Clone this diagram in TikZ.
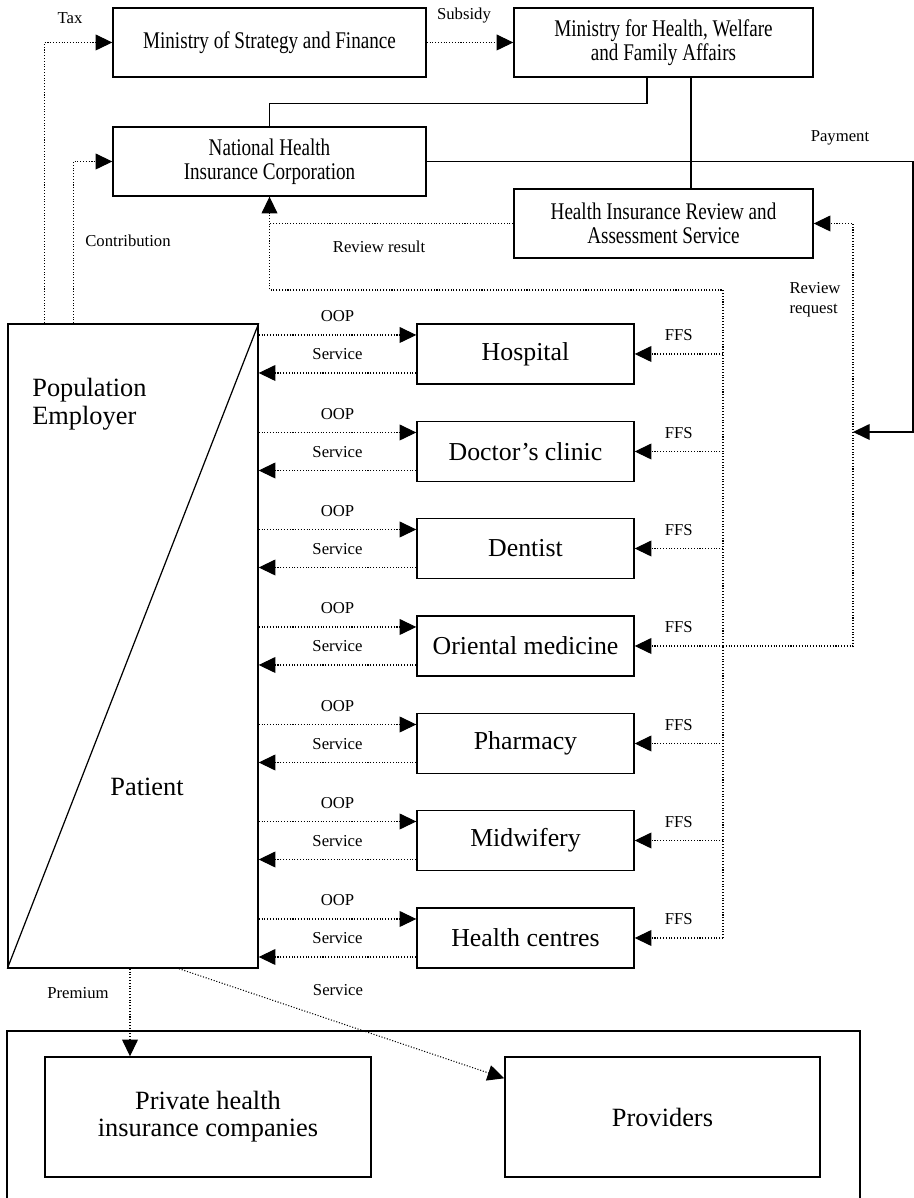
\documentclass[tikz,border=0pt]{standalone}
\usepackage{fontspec}
\setmainfont{Liberation Serif}
\newfontfamily\narrowfont[FakeStretch=0.8]{Liberation Serif}
\usetikzlibrary{arrows.meta,calc}
\tikzset{
  govbox/.style={draw, line width=0.8pt, align=center, minimum width=6.26cm, minimum height=1.38cm, inner sep=2pt, font=\narrowfont\fontsize{13.6}{13.6}\selectfont},
  provbox/.style={draw, line width=0.8pt, align=center, minimum width=4.34cm, minimum height=1.2cm, inner sep=2pt, font=\fontsize{14.7}{16}\selectfont},
  privbox/.style={draw, line width=0.8pt, align=center, minimum height=2.4cm, inner sep=2pt, font=\fontsize{15}{15.5}\selectfont},
  popbox/.style={draw, line width=0.8pt, minimum width=5cm, minimum height=12.88cm, inner sep=0pt},
  poptext/.style={align=left, inner sep=0pt, font=\fontsize{15}{16}\selectfont},
  flowlbl/.style={align=center, inner sep=1pt, font=\fontsize{9.5}{11.3}\selectfont},
  dotarrow/.style={-{Triangle[length=9.5pt,width=9pt]}, densely dotted, line width=0.6pt},
  dotline/.style={densely dotted, line width=0.6pt},
  solidarrow/.style={-{Triangle[length=9.5pt,width=9pt]}, line width=0.7pt},
  solidline/.style={line width=0.7pt},
  outerframe/.style={line width=0.8pt}
}
\begin{document}
\begin{tikzpicture}[x=1cm,y=1cm]
\useasboundingbox (0,0) rectangle (18.28,23.96);
% government and insurer
\node[govbox] (msf) at (5.39,23.11) {Ministry of Strategy and Finance};
\node[govbox, minimum width=5.98cm] (mhw) at (13.27,23.11) {Ministry for Health, Welfare\\and Family Affairs};
\node[govbox] (nhic) at (5.39,20.73) {National Health\\Insurance Corporation};
\node[govbox, minimum width=5.98cm] (hira) at (13.27,19.49) {Health Insurance Review and\\Assessment Service};
% population block
\node[popbox] (pop) at (2.66,11.04) {};
\draw[solidline] (pop.north east) -- (pop.south west);
\node[poptext, anchor=west] (popl) at (0.64,15.88) {Population\\Employer};
\node[poptext] (patl) at (2.94,8.22) {Patient};
% providers
\node[provbox] (hosp) at (10.51,16.88) {Hospital};
\node[provbox] (clinic) at (10.51,14.93) {Doctor’s clinic};
\node[provbox] (dent) at (10.51,12.99) {Dentist};
\node[provbox] (orient) at (10.51,11.04) {Oriental medicine};
\node[provbox] (pharm) at (10.51,9.09) {Pharmacy};
\node[provbox] (midw) at (10.51,7.15) {Midwifery};
\node[provbox] (hcent) at (10.51,5.20) {Health centres};
% private sector
\draw[outerframe] (0.14,0) |- (17.2,3.34) -- (17.2,0);
\node[privbox, minimum width=6.52cm] (phi) at (4.16,1.62) {Private health\\insurance companies};
\node[privbox, minimum width=6.3cm] (prov) at (13.25,1.62) {Providers};
% free ends
\coordinate (ffst) at (14.46,18.16);
\coordinate (ffsb) at (14.46,5.20);
\coordinate (rqb) at (17.06,11.04);
\coordinate (payc) at (18.26,20.73);
\coordinate (payb) at (17.06,15.32);
% money flows at the top
\draw[dotarrow] ([xshift=0.74cm]pop.north west) |- (msf.west);
\draw[dotarrow] ([xshift=1.32cm]pop.north west) |- (nhic.west);
\draw[dotarrow] (msf.east) -- (mhw.west);
\draw[solidline] ([xshift=-0.33cm]mhw.south) -- ++(0,-0.52) -| (nhic.north);
\draw[solidline] ([xshift=0.55cm]mhw.south) -- ([xshift=0.55cm]hira.north);
\draw[solidarrow] (nhic.east) -- (payc) |- (payb);
\draw[dotline] (hira.west) -- (hira.west -| nhic.south);
\draw[dotarrow] (ffsb) -- (ffst) -| (nhic.south);
\draw[dotarrow] (ffst |- orient.east) -- (rqb) |- (hira.east);
\node[flowlbl] (taxl) at (1.40,23.60) {Tax};
\node[flowlbl] (subl) at (9.28,23.64) {Subsidy};
\node[flowlbl] (conl) at (2.56,19.14) {Contribution};
\node[flowlbl] (resl) at (7.58,19.02) {Review result};
\node[flowlbl] (payl) at (16.80,21.20) {Payment};
\node[flowlbl, align=left] (reql) at (16.30,17.96) {Review\\request};
% patient and provider flows
\draw[dotarrow] ([yshift=0.38cm]pop.east |- hosp.west) -- node[flowlbl, above=0.22cm] (oop1) {OOP} ([yshift=0.38cm]hosp.west);
\draw[dotarrow] ([yshift=-0.38cm]hosp.west) -- node[flowlbl, above=0.22cm] (srv1) {Service} ([yshift=-0.38cm]pop.east |- hosp.west);
\draw[dotarrow] (ffst |- hosp.east) -- node[flowlbl, above=0.22cm] (ffs1) {FFS} (hosp.east);
\draw[dotarrow] ([yshift=0.38cm]pop.east |- clinic.west) -- node[flowlbl, above=0.22cm] (oop2) {OOP} ([yshift=0.38cm]clinic.west);
\draw[dotarrow] ([yshift=-0.38cm]clinic.west) -- node[flowlbl, above=0.22cm] (srv2) {Service} ([yshift=-0.38cm]pop.east |- clinic.west);
\draw[dotarrow] (ffst |- clinic.east) -- node[flowlbl, above=0.22cm] (ffs2) {FFS} (clinic.east);
\draw[dotarrow] ([yshift=0.38cm]pop.east |- dent.west) -- node[flowlbl, above=0.22cm] (oop3) {OOP} ([yshift=0.38cm]dent.west);
\draw[dotarrow] ([yshift=-0.38cm]dent.west) -- node[flowlbl, above=0.22cm] (srv3) {Service} ([yshift=-0.38cm]pop.east |- dent.west);
\draw[dotarrow] (ffst |- dent.east) -- node[flowlbl, above=0.22cm] (ffs3) {FFS} (dent.east);
\draw[dotarrow] ([yshift=0.38cm]pop.east |- orient.west) -- node[flowlbl, above=0.22cm] (oop4) {OOP} ([yshift=0.38cm]orient.west);
\draw[dotarrow] ([yshift=-0.38cm]orient.west) -- node[flowlbl, above=0.22cm] (srv4) {Service} ([yshift=-0.38cm]pop.east |- orient.west);
\draw[dotarrow] (ffst |- orient.east) -- node[flowlbl, above=0.22cm] (ffs4) {FFS} (orient.east);
\draw[dotarrow] ([yshift=0.38cm]pop.east |- pharm.west) -- node[flowlbl, above=0.22cm] (oop5) {OOP} ([yshift=0.38cm]pharm.west);
\draw[dotarrow] ([yshift=-0.38cm]pharm.west) -- node[flowlbl, above=0.22cm] (srv5) {Service} ([yshift=-0.38cm]pop.east |- pharm.west);
\draw[dotarrow] (ffst |- pharm.east) -- node[flowlbl, above=0.22cm] (ffs5) {FFS} (pharm.east);
\draw[dotarrow] ([yshift=0.38cm]pop.east |- midw.west) -- node[flowlbl, above=0.22cm] (oop6) {OOP} ([yshift=0.38cm]midw.west);
\draw[dotarrow] ([yshift=-0.38cm]midw.west) -- node[flowlbl, above=0.22cm] (srv6) {Service} ([yshift=-0.38cm]pop.east |- midw.west);
\draw[dotarrow] (ffst |- midw.east) -- node[flowlbl, above=0.22cm] (ffs6) {FFS} (midw.east);
\draw[dotarrow] ([yshift=0.38cm]pop.east |- hcent.west) -- node[flowlbl, above=0.22cm] (oop7) {OOP} ([yshift=0.38cm]hcent.west);
\draw[dotarrow] ([yshift=-0.38cm]hcent.west) -- node[flowlbl, above=0.22cm] (srv7) {Service} ([yshift=-0.38cm]pop.east |- hcent.west);
\draw[dotarrow] (ffst |- hcent.east) -- node[flowlbl, above=0.22cm] (ffs7) {FFS} (hcent.east);
% private flows
\draw[dotarrow] ([xshift=-0.06cm]pop.south) -- ([xshift=-0.06cm]pop.south |- phi.north);
\draw[dotarrow] ([xshift=0.92cm]pop.south) -- ([yshift=-0.44cm]prov.north west);
\node[flowlbl] (preml) at (1.56,4.10) {Premium};
\node[flowlbl] (srvb) at (6.76,4.16) {Service};
\end{tikzpicture}
\end{document}
